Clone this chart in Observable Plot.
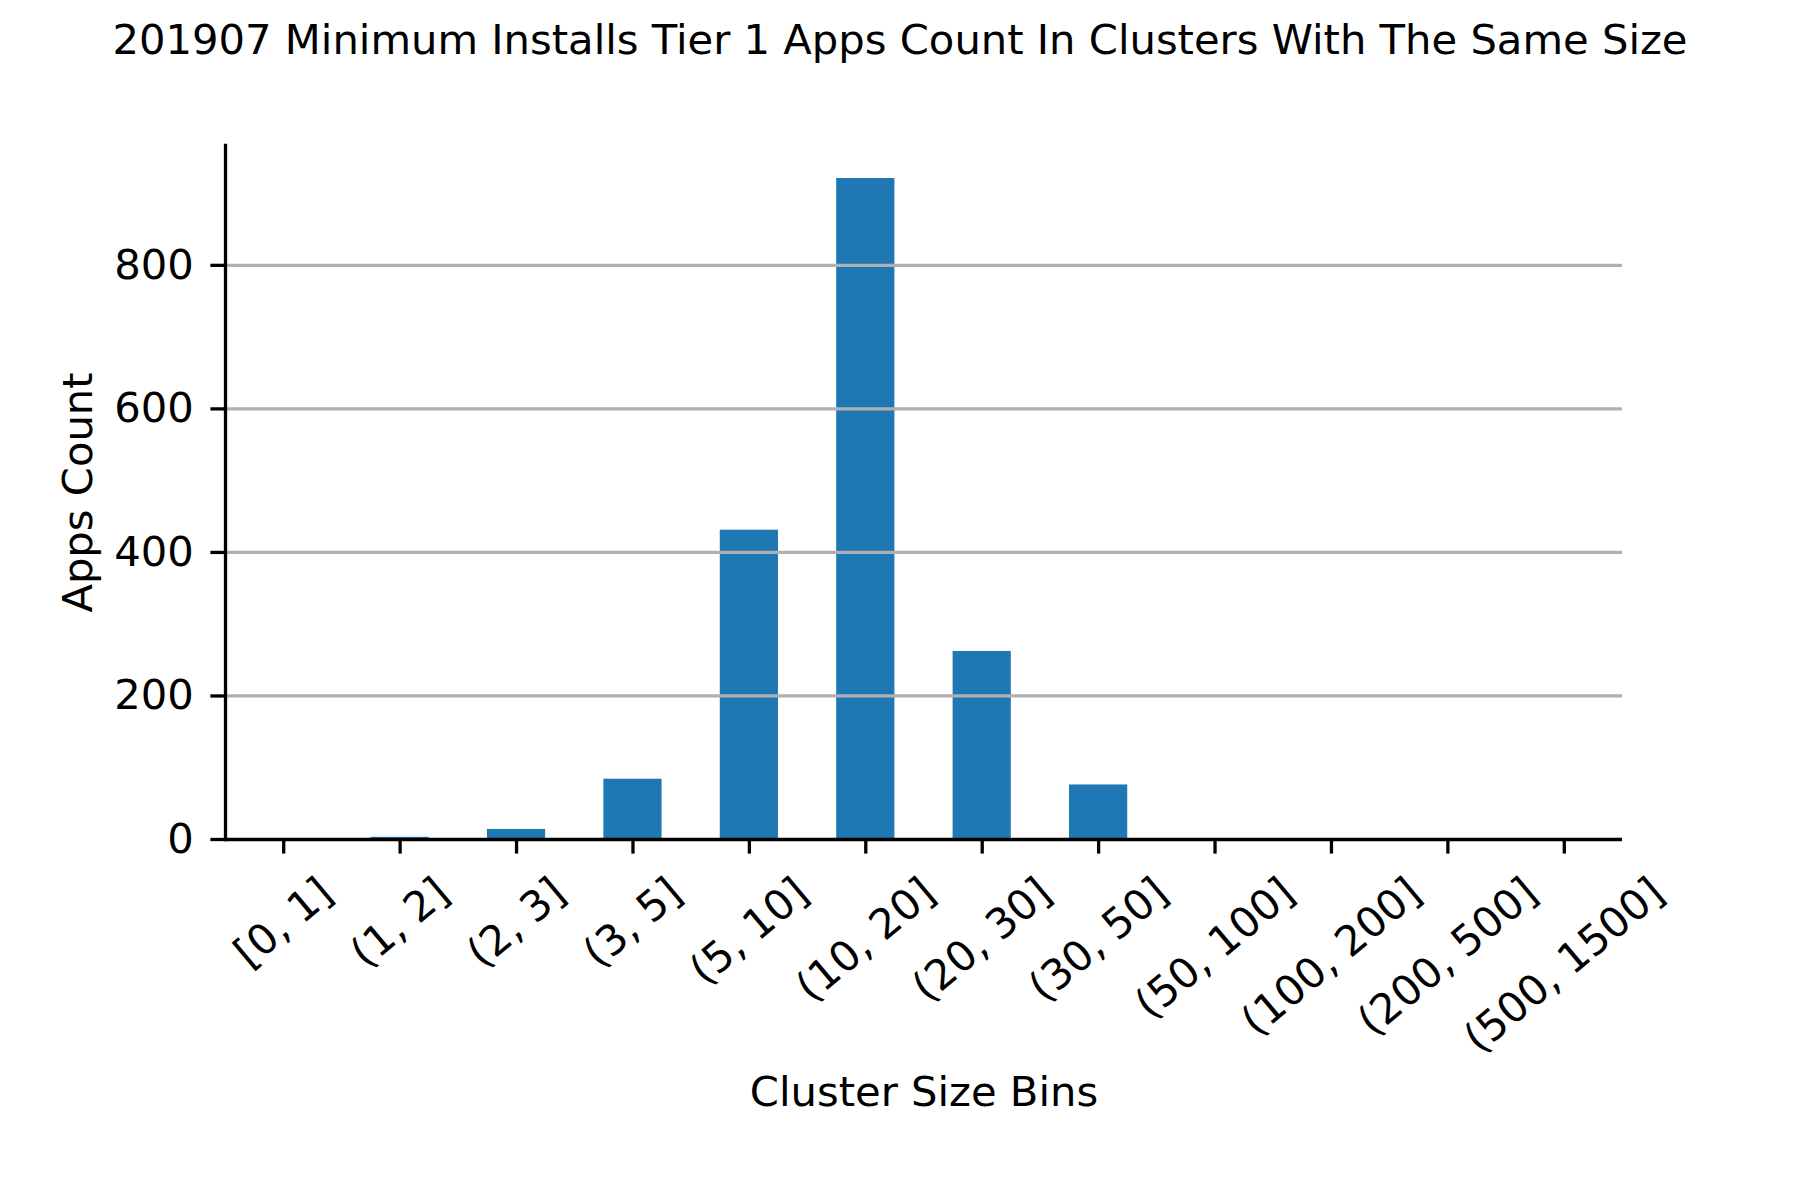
<!DOCTYPE html>
<html>
<head>
<meta charset="utf-8">
<script src="https://cdn.jsdelivr.net/npm/d3@7"></script>
<script src="https://cdn.jsdelivr.net/npm/@observablehq/plot@0.6"></script>
<style>
  html, body { margin: 0; padding: 0; background: #fff; }
  #wrap { width: 1800px; height: 1200px; overflow: hidden; }
  #title { height: 80px; line-height: 80px; padding-top: 0px; box-sizing: border-box; text-align: center;
           font-family: "DejaVu Sans"; font-size: 41.7px; color: #000; white-space: nowrap; }
</style>
</head>
<body>
<div id="wrap">
  <div id="title">201907 Minimum Installs Tier 1 Apps Count In Clusters With The Same Size</div>
  <div id="chart"></div>
</div>
<script>
const bins = ["[0, 1]", "(1, 2]", "(2, 3]", "(3, 5]", "(5, 10]", "(10, 20]", "(20, 30]", "(30, 50]", "(50, 100]", "(100, 200]", "(200, 500]", "(500, 1500]"];
const counts = [0, 3, 14, 84, 431, 921, 262, 76, 0, 0, 0, 0];
const yTicks = [0, 200, 400, 600, 800];
const yMax = 967;
const xLabel = "Cluster Size Bins";
const yLabel = "Apps Count";

const data = bins.map((b, i) => ({bin: b, count: counts[i]}));

const FS = 41.7;
const LFS = 41.7;
const ctx = document.createElement("canvas").getContext("2d");
ctx.font = `${FS}px "DejaVu Sans"`;
const rad = 40 * Math.PI / 180;
const lineH = 1.164 * FS;
const topGap = 29;

const labelMarks = bins.map(b => {
  const w = ctx.measureText(b).width;
  const dy = topGap + (w * Math.sin(rad) + lineH * Math.cos(rad)) / 2;
  return Plot.text([b], {x: d => d, frameAnchor: "bottom", rotate: -40, textAnchor: "middle", lineAnchor: "middle", dy, fontSize: FS, fill: "#000"});
});

const chart = Plot.plot({
  width: 1800,
  height: 1120,
  marginTop: 65,
  marginBottom: 361,
  marginLeft: 225,
  marginRight: 178,
  style: {fontFamily: "DejaVu Sans", fontSize: "41.7px", color: "#000", background: "#fff"},
  x: {domain: bins, paddingInner: 0.5, paddingOuter: 0.25, align: 0.5, round: false, label: null},
  y: {domain: [0, yMax], label: null},
  marks: [
    Plot.barY(data, {x: "bin", y: "count", fill: "#1f77b4"}),
    Plot.gridY(yTicks.filter(t => t > 0), {stroke: "#b0b0b0", strokeOpacity: 1, strokeWidth: 3.3}),
    Plot.axisY(yTicks, {tickSize: 14.6, tickPadding: 17, strokeWidth: 3.3, label: null, fontSize: FS}),
    Plot.axisX({tickSize: 14.6, tickFormat: () => "", strokeWidth: 3.3, label: null}),
    ...labelMarks,
    Plot.ruleY([0], {stroke: "#000", strokeWidth: 3.3}),
    Plot.frame({anchor: "left", stroke: "#000", strokeWidth: 3.3}),
    Plot.text([yLabel], {frameAnchor: "left", rotate: -90, textAnchor: "middle", lineAnchor: "middle", dx: -147, fontSize: LFS, fill: "#000"}),
    Plot.text([xLabel], {frameAnchor: "bottom", textAnchor: "middle", lineAnchor: "middle", dy: 253, fontSize: LFS, fill: "#000"})
  ]
});
document.getElementById("chart").appendChild(chart);
</script>
</body>
</html>
